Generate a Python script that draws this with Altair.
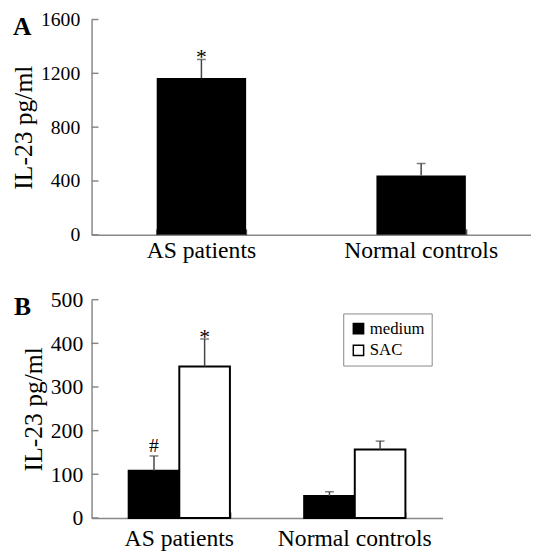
import altair as alt
import pandas as pd

FONT = "Liberation Serif"

# ---------- data ----------
categories = ["AS patients", "Normal controls"]

# Panel A
a_means = [1165, 440]
a_errs = [138, 90]
a_marks = ["*", ""]
a_ticks = [0, 400, 800, 1200, 1600]

# Panel B
groups = ["medium", "SAC"]
b_medium = [108, 50]
b_medium_err = [34, 10]
b_medium_marks = ["#", ""]
b_sac = [347, 157]
b_sac_err = [63, 19]
b_sac_marks = ["*", ""]
b_ticks = [0, 100, 200, 300, 400, 500]

dfA = pd.DataFrame({
    "cat": categories,
    "mean": a_means,
    "top": [m + e for m, e in zip(a_means, a_errs)],
    "mark": a_marks,
})

rows = []
for i, c in enumerate(categories):
    rows.append({"cat": c, "grp": "medium", "mean": b_medium[i],
                 "top": b_medium[i] + b_medium_err[i], "mark": b_medium_marks[i]})
    rows.append({"cat": c, "grp": "SAC", "mean": b_sac[i],
                 "top": b_sac[i] + b_sac_err[i], "mark": b_sac_marks[i]})
dfB = pd.DataFrame(rows)

GRAY = "#888888"
ERR = "#444444"


def x_main(scale, pad):
    return alt.X("cat:N", sort=categories, scale=scale, title=None,
                 axis=alt.Axis(orient="bottom", labelAngle=0, labelFontSize=24,
                               ticks=False, labelPadding=pad, domain=True))


def x_ticks(scale):
    return alt.X("cat:N", sort=categories, scale=scale, title=None,
                 axis=alt.Axis(orient="bottom", labels=False, domain=False, ticks=True,
                               tickSize=6, tickColor="#555555", tickWidth=1.5,
                               tickBand="extent", offset=-6))


def x_plain():
    return alt.X("cat:N", sort=categories, axis=None)


def make_y(domain, ticks, fsize, lpad):
    ax = alt.Axis(values=ticks, format="d", labelFontSize=fsize, ticks=False,
                  labelPadding=lpad, grid=False, titleFontSize=26,
                  titleFontWeight="normal", titlePadding=4)
    sc = alt.Scale(domain=domain, nice=False)

    def y(field):
        return alt.Y(field, scale=sc, axis=ax, title="IL-23 pg/ml")
    return y


# ---------- Panel A ----------
yA = make_y([0, 1600], a_ticks, 20, 12)
xsA = alt.Scale(paddingInner=0.593, paddingOuter=0.2965)
baseA = alt.Chart(dfA)
barsA = baseA.mark_bar(color="black").encode(x=x_main(xsA, 4), y=yA("mean:Q"))
errA = baseA.mark_rule(color=ERR, strokeWidth=1.5).encode(
    x=x_ticks(xsA), y=yA("mean:Q"), y2="top:Q")
capA = baseA.mark_tick(color=ERR, size=9, thickness=1.5).encode(
    x=x_plain(), y=yA("top:Q"))
starA = baseA.mark_text(font=FONT, fontSize=22, baseline="alphabetic", dy=5,
                        color="black").encode(
    x=x_plain(), y=yA("top:Q"), text="mark:N")
ytA = alt.Chart(pd.DataFrame({"v": a_ticks})).mark_rule(
    color=GRAY, strokeWidth=1.5).encode(
    x=alt.value(0), x2=alt.value(7), y=yA("v:Q"))
letterA = alt.Chart(pd.DataFrame({"t": ["A"]})).mark_text(
    font=FONT, fontSize=26, fontWeight="bold", align="left",
    baseline="alphabetic", color="black").encode(
    x=alt.value(-80), y=alt.value(16), text="t:N")

panelA = alt.layer(barsA, errA, capA, starA, ytA, letterA).resolve_axis(
    x="independent").properties(width=447, height=219)

# ---------- Panel B ----------
yB = make_y([0, 500], b_ticks, 22, 9)
xsB = alt.Scale(paddingInner=0.423, paddingOuter=0.2115)
xoff = alt.XOffset("grp:N", sort=groups, scale=alt.Scale(paddingInner=0, paddingOuter=0))
baseB = alt.Chart(dfB)
barsB = baseB.mark_bar(stroke="black", strokeWidth=2).encode(
    x=x_main(xsB, 9),
    xOffset=xoff,
    y=yB("mean:Q"),
    color=alt.Color("grp:N", sort=groups,
                    scale=alt.Scale(domain=groups, range=["black", "white"]),
                    legend=alt.Legend(title=None, orient="none", legendX=256,
                                      legendY=14, strokeColor=GRAY, fillColor="white",
                                      padding=7, labelFont=FONT, labelFontSize=17,
                                      labelColor="black", symbolType="square",
                                      symbolSize=110, symbolStrokeColor="black",
                                      symbolStrokeWidth=1.5, rowPadding=4,
                                      labelOffset=3)),
)
errB = baseB.mark_rule(color=ERR, strokeWidth=1.5).encode(
    x=x_ticks(xsB), xOffset=xoff, y=yB("mean:Q"), y2="top:Q")
capB = baseB.mark_tick(color=ERR, size=9, thickness=1.5).encode(
    x=x_plain(), xOffset=xoff, y=yB("top:Q"))
starB = baseB.transform_filter(alt.datum.mark == "*").mark_text(
    font=FONT, fontSize=22, baseline="alphabetic", dy=5, color="black").encode(
    x=x_plain(), xOffset=xoff, y=yB("top:Q"), text="mark:N")
hashB = baseB.transform_filter(alt.datum.mark == "#").mark_text(
    font=FONT, fontSize=20, baseline="alphabetic", dy=-4, color="black").encode(
    x=x_plain(), xOffset=xoff, y=yB("top:Q"), text="mark:N")
ytB = alt.Chart(pd.DataFrame({"v": b_ticks})).mark_rule(
    color=GRAY, strokeWidth=1.5).encode(
    x=alt.value(0), x2=alt.value(7), y=yB("v:Q"))
letterB = alt.Chart(pd.DataFrame({"t": ["B"]})).mark_text(
    font=FONT, fontSize=26, fontWeight="bold", align="left",
    baseline="alphabetic", color="black").encode(
    x=alt.value(-79), y=alt.value(16), text="t:N")

panelB = alt.layer(barsB, errB, capB, starB, hashB, ytB, letterB).resolve_axis(
    x="independent").properties(width=357, height=222)

chart = alt.vconcat(panelA, panelB, spacing=27).resolve_legend(
    color="independent"
).resolve_scale(color="independent").properties(
    padding={"left": 3, "top": -3, "right": 0, "bottom": 0}
).configure_view(stroke=None).configure_axis(
    labelFont=FONT, titleFont=FONT, labelColor="black", titleColor="black",
    domainColor=GRAY, domainWidth=1.5, grid=False
).configure_axisY(labelFontSize=20).configure_legend(labelFont=FONT, labelColor="black")

chart.save("out.html", embed_options={"renderer": "svg", "actions": False})
